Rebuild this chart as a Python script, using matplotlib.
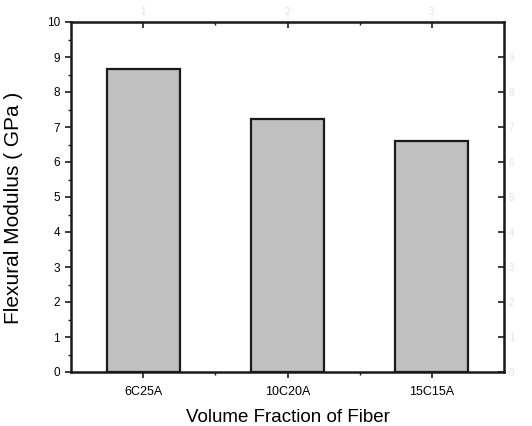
import numpy as np
import matplotlib.pyplot as plt
from matplotlib.ticker import MultipleLocator, FixedLocator

plt.rcParams['font.family'] = ['Liberation Sans', 'DejaVu Sans']

# data
samples = ['6C25A', '10C20A', '15C15A']
modulus = [8.66, 7.24, 6.60]

x = np.arange(1, len(samples) + 1)

fig = plt.figure(figsize=(5.32, 4.26), dpi=100)
ax = fig.add_axes([71 / 532, 1 - 372 / 426, 433 / 532, 350 / 426])

ax.bar(x, modulus, width=0.505, color='#c0c0c0', edgecolor='#1a1a1a', linewidth=1.6)

ax.set_xlim(0.5, 3.5)
ax.set_ylim(0, 10)
ax.set_xticks(x)
ax.set_xticklabels(samples)
ax.xaxis.set_minor_locator(FixedLocator([1.5, 2.5]))
ax.yaxis.set_major_locator(MultipleLocator(1))
ax.yaxis.set_minor_locator(MultipleLocator(0.5))

ax.tick_params(axis='both', which='major', labelsize=8.5, length=4, width=1.2, color='#1a1a1a')
ax.tick_params(axis='x', which='major', labelsize=9)
ax.tick_params(axis='both', which='minor', length=2.5, width=1.0, color='#1a1a1a')
ax.tick_params(axis='x', which='both', direction='out', pad=6)
ax.tick_params(axis='y', which='both', direction='out', pad=4)

for s in ax.spines.values():
    s.set_linewidth(1.8)
    s.set_color('#1a1a1a')

# top/right ticks (faint labels as in the scan)
top = ax.secondary_xaxis('top')
top.set_xticks(x)
top.set_xticklabels(['1', '2', '3'])
top.xaxis.set_minor_locator(FixedLocator([1.5, 2.5]))
top.tick_params(which='both', direction='in', labelsize=7, labelcolor='#e2e2e2', color='#1a1a1a')
top.tick_params(which='major', length=4, width=1.2)
top.tick_params(which='minor', length=2.5, width=1.0)

right = ax.secondary_yaxis('right')
right.set_yticks(np.arange(0, 10, 1))
right.tick_params(which='major', direction='in', length=4, width=1.2, labelsize=7,
                  labelcolor='#e2e2e2', color='#1a1a1a')

ax.set_ylabel('Flexural Modulus ( GPa )', fontsize=15)
ax.yaxis.set_label_coords(-0.111, 0.47)
ax.set_xlabel('Volume Fraction of Fiber', fontsize=13.5, labelpad=8)

fig.savefig('out.png', dpi=100)
